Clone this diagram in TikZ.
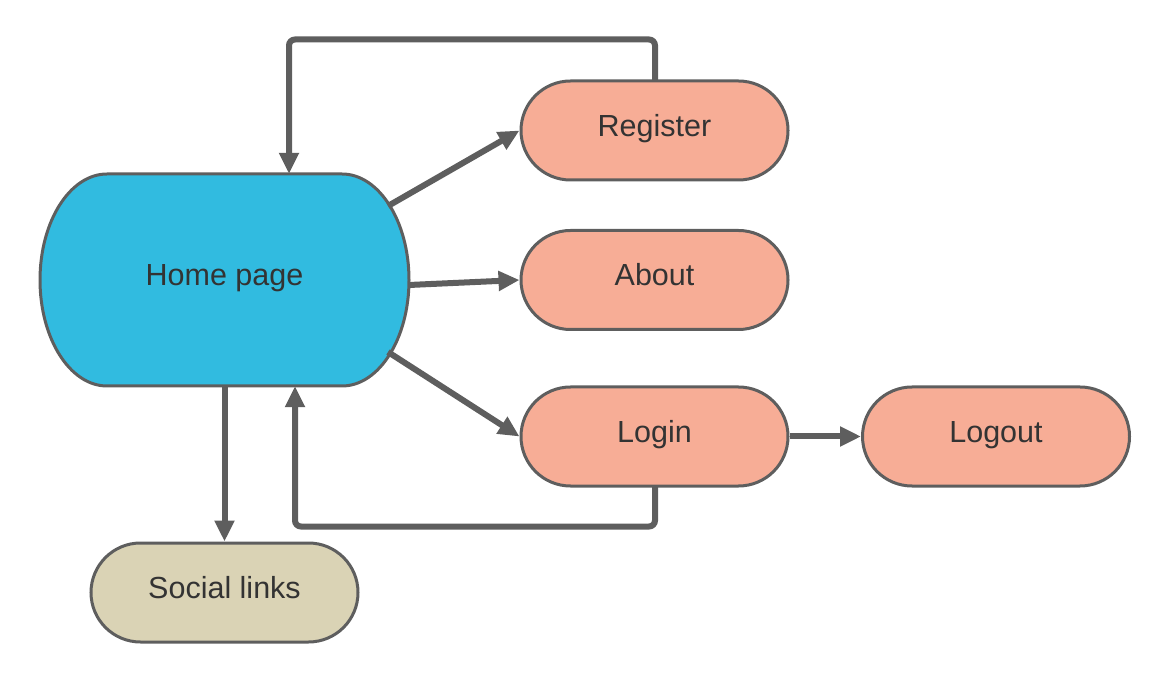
\documentclass[tikz,border=0pt]{standalone}
\usepackage{fontspec}
\setmainfont{Liberation Sans}
\usetikzlibrary{arrows.meta,calc}
\definecolor{homeblue}{HTML}{31BBE0}
\definecolor{salmon}{HTML}{F7AD96}
\definecolor{beige}{HTML}{DAD3B5}
\definecolor{edgegray}{HTML}{5E5E5E}
\definecolor{txt}{HTML}{333333}
\tikzset{
  labeltext/.style={text=txt, font=\fontsize{30.5}{36}\selectfont,
    text height=21pt, text depth=9pt},
  pill/.style={rectangle, rounded corners=49.5pt, draw=edgegray, line width=3pt,
    minimum width=267pt, minimum height=99pt, inner sep=0pt, labeltext},
  pagepill/.style={pill, fill=salmon},
  conn/.style={draw=edgegray, line width=6pt, rounded corners=6pt,
    -{Triangle[length=21pt,width=19pt]}},
}
\begin{document}
\begin{tikzpicture}[x=1pt,y=1pt]
\useasboundingbox (0,0) rectangle (1169,683);
% Home page terminator shape
\filldraw[fill=homeblue, draw=edgegray, line width=3pt]
  (107,509) -- (342,509) arc[start angle=90, end angle=0, x radius=67, y radius=106]
  arc[start angle=0, end angle=-90, x radius=67, y radius=106]
  -- (107,297) arc[start angle=270, end angle=180, x radius=67, y radius=106]
  arc[start angle=180, end angle=90, x radius=67, y radius=106] -- cycle;
\node[minimum width=369pt, minimum height=212pt, inner sep=0pt, labeltext]
  (home) at (224.5,403) {Home page};

\node[pagepill] (register) at (654.5,552.5) {Register};
\node[pagepill] (about) at (654.5,403) {About};
\node[pagepill] (login) at (654.5,246.5) {Login};
\node[pagepill] (logout) at (996,246.5) {Logout};
\node[pill, fill=beige] (social) at (224.5,90.5) {Social links};

\coordinate (regtop) at ($(register.north)+(0.5,-1)$);
\coordinate (hometopin) at ($(home.north)+(64.5,0)$);
\coordinate (homebotout) at ($(home.south)+(70.5,0)$);
\coordinate (loginbot) at ($(login.south)+(0.5,1)$);

% connectors
\draw[conn] (regtop) -- ++(0,41) -| (hometopin);
\draw[conn] ($(home.center)+(163.5,74)$) -- (register.west);
\draw[conn] ($(home.center)+(184.5,-5)$) -- (about.west);
\draw[conn] ($(home.center)+(163.5,-72)$) -- (login.west);
\draw[conn] (login.east) -- (logout.west);
\draw[conn] (loginbot) -- ++(0,-40) -| (homebotout);
\draw[conn] ($(home.south)+(0,1)$) -- (social.north);
\end{tikzpicture}
\end{document}
